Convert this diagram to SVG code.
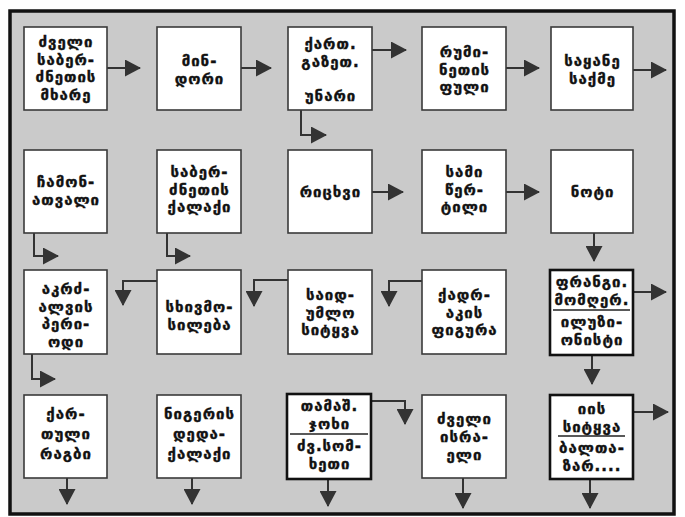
<svg xmlns="http://www.w3.org/2000/svg" width="685" height="517" viewBox="0 0 685 517">
<style>
.bg{fill:#cacaca;stroke:#111;stroke-width:3.5}
.box{fill:#fff;stroke:#3a3a3a;stroke-width:1.6}
.thick{fill:#fff;stroke:#111;stroke-width:2.6}
.t{font-family:"DejaVu Sans",sans-serif;font-weight:bold;font-size:15px;letter-spacing:1px;fill:#111;stroke:#111;stroke-width:0.4;text-anchor:middle}
.sep{stroke:#222;stroke-width:1.6}
.c{stroke:#333;stroke-width:2;fill:none;marker-end:url(#ah)}
</style>
<defs>
<marker id="ah" markerUnits="userSpaceOnUse" markerWidth="16" markerHeight="17" viewBox="0 0 16 17" refX="15" refY="8.5" orient="auto">
<path d="M0,0 L16,8.5 L0,17 z" fill="#333"/>
</marker>
</defs>
<rect x="0" y="0" width="685" height="517" fill="#fff"/>
<rect class="bg" x="10" y="11" width="664" height="503"/>

<g id="connectors">
<path class="c" d="M107,68 H140"/>
<path class="c" d="M241,68 H271"/>
<path class="c" d="M372,50 H406"/>
<path class="c" d="M506,68 H539"/>
<path class="c" d="M633,70 H666"/>
<path class="c" d="M301,110 V135 H326"/>
<path class="c" d="M34,233 V256 H58"/>
<path class="c" d="M167,233 V256 H190"/>
<path class="c" d="M372,192 H403"/>
<path class="c" d="M506,192 H539"/>
<path class="c" d="M594,233 V261"/>
<path class="c" d="M157,281 H123 V305"/>
<path class="c" d="M288,280 H254 V306"/>
<path class="c" d="M422,281 H389 V306"/>
<path class="c" d="M633,292 H666"/>
<path class="c" d="M592,355 V384"/>
<path class="c" d="M32,354 V379 H55"/>
<path class="c" d="M67,478 V504"/>
<path class="c" d="M192,478 V504"/>
<path class="c" d="M328,479 V506"/>
<path class="c" d="M371,401 H405 V424"/>
<path class="c" d="M463,478 V508"/>
<path class="c" d="M633,412 H668"/>
<path class="c" d="M590,479 V508"/>
</g>

<g id="n1"><rect class="box" x="24" y="27" width="83" height="83"/>
<text class="t" x="66" y="47">ძველი</text><text class="t" x="66" y="64.5">საბერ-</text><text class="t" x="66" y="82">ძნეთის</text><text class="t" x="66" y="99.5">მხარე</text></g>
<g id="n2"><rect class="box" x="157" y="27" width="84" height="83"/>
<text class="t" x="199.5" y="66">მინ-</text><text class="t" x="199.5" y="83.5">დორი</text></g>
<g id="n3"><rect class="box" x="288" y="27" width="84" height="83"/>
<text class="t" x="330.5" y="49">ქართ.</text><text class="t" x="330.5" y="66.5">გაზეთ.</text><text class="t" x="330.5" y="101">უნარი</text></g>
<g id="n4"><rect class="box" x="422" y="27" width="84" height="83"/>
<text class="t" x="464.5" y="57">რუმი-</text><text class="t" x="464.5" y="74.5">ნეთის</text><text class="t" x="464.5" y="92">ფული</text></g>
<g id="n5"><rect class="box" x="551" y="27" width="82" height="83"/>
<text class="t" x="592.5" y="66">საყანე</text><text class="t" x="592.5" y="83.5">საქმე</text></g>

<g id="n6"><rect class="box" x="24" y="150" width="83" height="83"/>
<text class="t" x="66" y="187">ჩამონ-</text><text class="t" x="66" y="205">ათვალი</text></g>
<g id="n7"><rect class="box" x="157" y="150" width="84" height="83"/>
<text class="t" x="199.5" y="177">საბერ-</text><text class="t" x="199.5" y="194.5">ძნეთის</text><text class="t" x="199.5" y="212">ქალაქი</text></g>
<g id="n8"><rect class="box" x="288" y="150" width="84" height="83"/>
<text class="t" x="330.5" y="197">რიცხვი</text></g>
<g id="n9"><rect class="box" x="422" y="150" width="84" height="83"/>
<text class="t" x="464.5" y="177">სამი</text><text class="t" x="464.5" y="194.5">წერ-</text><text class="t" x="464.5" y="212">ტილი</text></g>
<g id="n10"><rect class="box" x="551" y="150" width="82" height="83"/>
<text class="t" x="592.5" y="197">ნოტი</text></g>

<g id="n11"><rect class="box" x="24" y="270" width="83" height="84"/>
<text class="t" x="66" y="294">აკრძ-</text><text class="t" x="66" y="311.5">ალვის</text><text class="t" x="66" y="329">პერი-</text><text class="t" x="66" y="346.5">ოდი</text></g>
<g id="n12"><rect class="box" x="157" y="270" width="84" height="84"/>
<text class="t" x="199.5" y="312">სხივმო-</text><text class="t" x="199.5" y="329.5">სილება</text></g>
<g id="n13"><rect class="box" x="288" y="270" width="84" height="84"/>
<text class="t" x="330.5" y="300">საიდ-</text><text class="t" x="330.5" y="317.5">უმლო</text><text class="t" x="330.5" y="335">სიტყვა</text></g>
<g id="n14"><rect class="box" x="422" y="270" width="84" height="84"/>
<text class="t" x="464.5" y="300">ქადრ-</text><text class="t" x="464.5" y="317.5">აკის</text><text class="t" x="464.5" y="335">ფიგურა</text></g>
<g id="n15"><rect class="thick" x="550" y="270" width="83" height="85"/>
<text class="t" x="592" y="287">ფრანგი.</text><text class="t" x="592" y="304.5">მომღერ.</text>
<line class="sep" x1="553" y1="310" x2="630" y2="310"/>
<text class="t" x="592" y="327">ილუზი-</text><text class="t" x="592" y="344.5">ონისტი</text></g>

<g id="n16"><rect class="box" x="24" y="395" width="83" height="83"/>
<text class="t" x="66" y="419">ქარ-</text><text class="t" x="66" y="439">თული</text><text class="t" x="66" y="459">რაგბი</text></g>
<g id="n17"><rect class="box" x="157" y="395" width="84" height="83"/>
<text class="t" x="199.5" y="419">ნიგერის</text><text class="t" x="199.5" y="439">დედა-</text><text class="t" x="199.5" y="459">ქალაქი</text></g>
<g id="n18"><rect class="thick" x="287" y="394" width="84" height="85"/>
<text class="t" x="329.5" y="411">თამაშ.</text><text class="t" x="329.5" y="428.5">ჯოხი</text>
<line class="sep" x1="290" y1="434" x2="368" y2="434"/>
<text class="t" x="329.5" y="451">ძვ.სომ-</text><text class="t" x="329.5" y="468.5">ხეთი</text></g>
<g id="n19"><rect class="box" x="422" y="395" width="84" height="83"/>
<text class="t" x="464.5" y="424">ძველი</text><text class="t" x="464.5" y="442">ისრა-</text><text class="t" x="464.5" y="460">ელი</text></g>
<g id="n20"><rect class="thick" x="550" y="395" width="83" height="84"/>
<text class="t" x="592" y="414">იის</text><text class="t" x="592" y="431.5">სიტყვა</text>
<line class="sep" x1="558" y1="436" x2="625" y2="436"/>
<text class="t" x="592" y="453">ბალთა-</text><text class="t" x="592" y="470.5">ზარ....</text></g>
</svg>
